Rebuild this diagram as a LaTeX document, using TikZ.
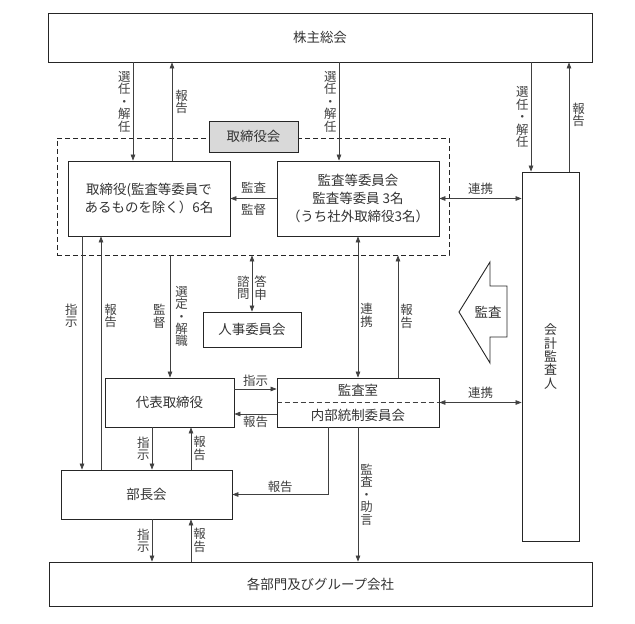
\documentclass[tikz,border=0pt]{standalone}
\usepackage{fontspec}
\setmainfont{Noto Sans CJK JP}
\usetikzlibrary{arrows.meta}
\tikzset{
  >={Triangle[length=6bp,width=4.6bp]},
  box/.style={draw=black!85,line width=0.9bp,fill=white,inner sep=0pt,align=center,
    text=black!80,font=\fontsize{13.5}{18}\selectfont},
  grp/.style={draw=black!85,line width=0.9bp,dash pattern=on 5bp off 3bp,inner sep=0pt},
  ln/.style={draw=black!75,line width=0.7bp},
  vl/.style={align=center,inner sep=2bp,text=black!75,font=\fontsize{12.5}{12.5}\selectfont},
  hl/.style={inner sep=2bp,text=black!75,font=\fontsize{12.5}{13}\selectfont},
}
\begin{document}
\begin{tikzpicture}[x=1bp,y=-1bp]
\useasboundingbox (0,0) rectangle (635,624);
% boxes
\node[box,minimum width=544bp,minimum height=49bp] (gm) at (320,37.5) {株主総会};
\node[grp,minimum width=392bp,minimum height=117bp] (bd) at (253,196.5) {};
\node[box,fill=black!15,minimum width=89bp,minimum height=31bp] (bdl) at (253.5,136.5) {取締役会};
\node[box,minimum width=162bp,minimum height=75bp] (dir) at (149,198.5) {取締役(監査等委員で\\あるものを除く）6名};
\node[box,minimum width=162bp,minimum height=75bp] (ac) at (358,198.5) {監査等委員会\\監査等委員\ 3名\\（うち社外取締役3名）};
\node[box,minimum width=57bp,minimum height=369bp,font=\fontsize{13}{13.5}\selectfont] (ca) at (550.5,356.5) {会\\計\\監\\査\\人};
\node[box,minimum width=98bp,minimum height=35bp] (hr) at (252,329.5) {人事委員会};
\node[box,minimum width=129bp,minimum height=49bp] (rep) at (169.5,402.5) {代表取締役};
\node[box,minimum width=162bp,minimum height=49bp] (ia) at (358,402.5) {};
\node[box,draw=none,fill=none] (ia1) at (358,390.5) {監査室};
\node[box,draw=none,fill=none] (ia2) at (358,415) {内部統制委員会};
\draw[ln,dash pattern=on 5bp off 3bp] (ia.west) -- (ia.east);
\node[box,minimum width=171bp,minimum height=49bp] (bm) at (146.5,494.5) {部長会};
\node[box,minimum width=543bp,minimum height=44bp] (gr) at (320.5,584) {各部門及びグループ会社};
% audit arrow
\draw[line width=0.9bp,draw=black!85,fill=white] (459,312) -- (490,262) -- (490,286) -- (507,286)
  -- (507,337) -- (490,337) -- (490,363) -- cycle;
\node[box,draw=none,fill=none] (aud) at (488,312) {監査};
% columns
\coordinate (xa) at (133,0); \coordinate (xb) at (172,0); \coordinate (xc) at (339,0);
\coordinate (xd) at (531,0); \coordinate (xe) at (569,0); \coordinate (xf) at (82,0);
\coordinate (xg) at (101,0); \coordinate (xh) at (170,0); \coordinate (xj) at (398,0);
\coordinate (xk) at (152,0); \coordinate (xl) at (191,0); \coordinate (xm) at (328,0);
\coordinate (ya) at (0,389); \coordinate (yb) at (0,414);
% connectors
\draw[ln,->] (gm.south -| xa) -- node[vl,left,pos=.4] (t1) {選\\任\\・\\解\\任} (dir.north -| xa);
\draw[ln,->] (dir.north -| xb) -- node[vl,right=1bp,pos=.6] (t2) {報\\告} (gm.south -| xb);
\draw[ln,->] (gm.south -| xc) -- node[vl,left,pos=.4] (t3) {選\\任\\・\\解\\任} (ac.north -| xc);
\draw[ln,->] (gm.south -| xd) -- node[vl,left,pos=.5] (t4) {選\\任\\・\\解\\任} (ca.north -| xd);
\draw[ln,->] (ca.north -| xe) -- node[vl,right=1bp,pos=.52] (t5) {報\\告} (gm.south -| xe);
\draw[ln,->] (ac.west) -- node[hl,above=3bp] (t6) {監査} node[hl,below=3bp] (t7) {監督} (dir.east);
\draw[ln,<->] (ac.east) -- node[hl,above=1.5bp] (t8) {連携} (ca.west |- ac.east);
\draw[ln,<->] (bd.south -| hr.north) -- node[vl,left,pos=.58] (t9) {諮\\問}
  node[vl,right,pos=.58] (t10) {答\\申} (hr.north);
\draw[ln,->] (dir.south -| xf) -- node[vl,left=2bp,pos=.34] (t11) {指\\示} (bm.north -| xf);
\draw[ln,->] (bm.north -| xg) -- node[vl,right=1bp,pos=.66] (t12) {報\\告} (dir.south -| xg);
\draw[ln,->] (bd.south -| xh) -- node[vl,left=2bp] (t13) {監\\督}
  node[vl,right=3bp] (t14) {選\\定\\・\\解\\職} (rep.north -| xh);
\draw[ln,<->] (ac.south) -- node[vl,right,pos=.56] (t15) {連\\携} (ia.north);
\draw[ln,->] (ia.north -| xj) -- node[vl,right] (t16) {報\\告} (bd.south -| xj);
\draw[ln,->] (rep.east |- ya) -- node[hl,above] (t17) {指示} (ia.west |- ya);
\draw[ln,->] (ia.west |- yb) -- node[hl,below] (t18) {報告} (rep.east |- yb);
\draw[ln,<->] (ia.east) -- node[hl,above=1.5bp] (t19) {連携} (ca.west |- ia.east);
\draw[ln,->] (rep.south -| xk) -- node[vl,left] (t20) {指\\示} (bm.north -| xk);
\draw[ln,->] (bm.north -| xl) -- node[vl,right] (t21) {報\\告} (rep.south -| xl);
\draw[ln,->] (ia.south -| xm) |- node[hl,above,pos=.75] (t22) {報告} (bm.east);
\draw[ln,->] (ia.south) -- node[vl,right] (t23) {監\\査\\・\\助\\言} (gr.north -| ia.south);
\draw[ln,->] (bm.south -| xk) -- node[vl,left] (t24) {指\\示} (gr.north -| xk);
\draw[ln,->] (gr.north -| xl) -- node[vl,right] (t25) {報\\告} (bm.south -| xl);
\end{tikzpicture}
\end{document}
